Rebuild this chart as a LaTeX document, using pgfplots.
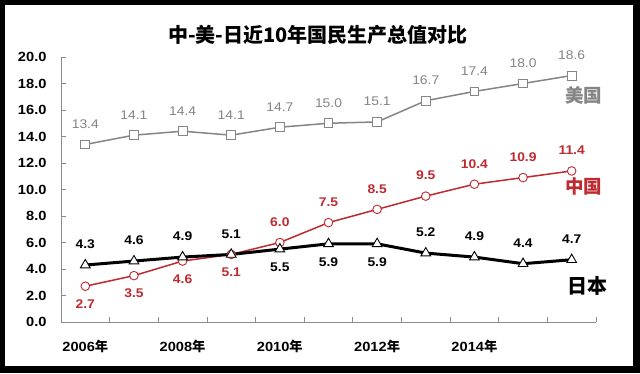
\documentclass[border=0pt]{standalone}
\usepackage{pgfplots}
\pgfplotsset{compat=1.18}
\usepackage{pgfplotstable}
\usepackage{fontspec}
\setmainfont{Liberation Sans}
\newfontfamily\numfont[FakeStretch=1.1]{Liberation Sans}
\newfontfamily\cjk{Noto Sans CJK SC}
\definecolor{usgray}{HTML}{858585}
\definecolor{cnred}{HTML}{BE2A30}
\definecolor{axgray}{HTML}{8C8C8C}

\pgfplotstableread{
x y off
0 13.4 20.5
1 14.1 20.5
2 14.4 20.5
3 14.1 20.5
4 14.7 20.5
5 15.0 20.5
6 15.1 20.5
7 16.7 20.5
8 17.4 20.5
9 18.0 20.5
10 18.6 20.5
}\usdata
\pgfplotstableread{
x y off
0 2.7 -18
1 3.5 -18
2 4.6 -18
3 5.1 -18
4 6.0 20.5
5 7.5 20.5
6 8.5 20.5
7 9.5 20.5
8 10.4 20.5
9 10.9 20.5
10 11.4 20.5
}\cndata
\pgfplotstableread{
x y off
0 4.3 20.5
1 4.6 20.5
2 4.9 20.5
3 5.1 20.5
4 5.5 -18
5 5.9 -18
6 5.9 -18
7 5.2 20.5
8 4.9 20.5
9 4.4 20.5
10 4.7 20.5
}\jpdata

\begin{document}
\begin{tikzpicture}
\fill[black] (0,0) rectangle (640pt,373pt);
\fill[white] (5pt,7pt) rectangle (633pt,368pt);
\begin{axis}[
  at={(61pt,51pt)}, anchor=south west,
  scale only axis, width=535pt, height=265pt,
  xmin=-0.5, xmax=10.5, ymin=0, ymax=20,
  clip=false,
  axis x line*=bottom, axis y line*=left,
  axis line style={axgray, line width=0.8pt},
  tick align=inside,
  tick style={axgray, line width=0.8pt},
  major tick length=5pt, minor tick length=5pt,
  xtick={0,2,4,6,8},
  xticklabels={2006{\cjk 年},2008{\cjk 年},2010{\cjk 年},2012{\cjk 年},2014{\cjk 年}},
  major x tick style={draw=none},
  minor xtick={-0.5,0.5,...,10.5},
  ytick={0,2,...,20},
  yticklabel style={/pgf/number format/fixed, /pgf/number format/fixed zerofill, /pgf/number format/precision=1, /pgf/number format/assume math mode=true},
  yticklabel style={anchor=east, xshift=-11pt},
  xticklabel style={anchor=north, yshift=-15pt},
  ticklabel style={font=\numfont\bfseries\fontsize{13.3}{15}\selectfont, text=black},
  nodes near coords,
  visualization depends on={\thisrow{off} \as \loff},
  every node near coord/.append style={anchor=center, yshift=\loff,
     /pgf/number format/fixed, /pgf/number format/fixed zerofill, /pgf/number format/precision=1, /pgf/number format/assume math mode=true},
]
\addplot[usgray, line width=1.5pt, mark=square*, mark size=4.4pt,
  mark options={fill=white, draw=usgray, line width=0.9pt},
  nodes near coords style={font=\numfont\fontsize{12.6}{14}\selectfont, text=usgray}]
  table[x=x,y=y] {\usdata};
\addplot[cnred, line width=1.5pt, mark=*, mark size=4.3pt,
  mark options={fill=white, draw=cnred, line width=0.9pt},
  nodes near coords style={font=\numfont\bfseries\fontsize{12.6}{14}\selectfont, text=cnred}]
  table[x=x,y=y] {\cndata};
\addplot[black, line width=3pt, mark=triangle*, mark size=5.6pt,
  mark options={fill=white, draw=black, line width=0.9pt},
  nodes near coords style={font=\numfont\bfseries\fontsize{12.6}{14}\selectfont, text=black}]
  table[x=x,y=y] {\jpdata};
\node[text=usgray, font=\cjk\bfseries\fontsize{18.5}{20}\selectfont] at (axis cs:10.25,17.09) {美国};
\node[text=cnred, font=\cjk\bfseries\fontsize{18.5}{20}\selectfont] at (axis cs:10.25,10.23) {中国};
\node[text=black, font=\cjk\bfseries\fontsize{20}{22}\selectfont] at (axis cs:10.32,2.72) {日本};
\end{axis}
\node[font=\cjk\bfseries\fontsize{20}{22}\selectfont] at (318pt,338pt) {中-美-日近10年国民生产总值对比};
\end{tikzpicture}
\end{document}
